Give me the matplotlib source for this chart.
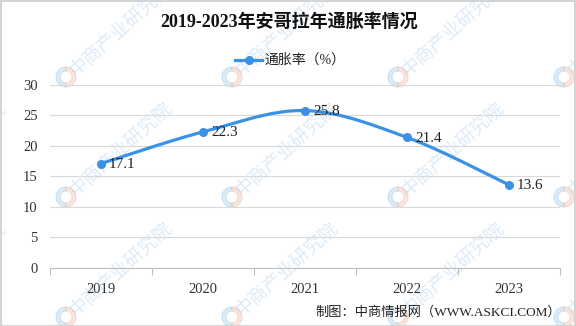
import numpy as np
import matplotlib
matplotlib.use("Agg")
import matplotlib.pyplot as plt
from matplotlib.patches import Rectangle, Wedge
from matplotlib.lines import Line2D

plt.rcParams['font.family'] = ['Liberation Serif', 'Noto Sans CJK SC', 'DejaVu Sans']

years = ['2019', '2020', '2021', '2022', '2023']
inflation = [17.1, 22.3, 25.8, 21.4, 13.6]
labels = ['17.1', '22.3', '25.8', '21.4', '13.6']
yticks = [0, 5, 10, 15, 20, 25, 30]

title = '2019-2023年安哥拉年通胀率情况'
legend_label = '通胀率（%）'
footer = '制图：中商情报网（WWW.ASKCI.COM）'

W, H = 576, 326
fig = plt.figure(figsize=(W / 100, H / 100), dpi=100)
fig.patch.set_facecolor('white')

def px(x, y):
    return x / W, 1 - y / H

# axes
l, r, t, b = 50, 560, 85, 267.7
ax = fig.add_axes([l / W, 1 - b / H, (r - l) / W, (b - t) / H])
ax.set_facecolor('none')

color = '#3a92e8'
xs = np.arange(len(years), dtype=float)
ys = np.array(inflation, dtype=float)

# smooth curve (Catmull-Rom / Excel-like bezier)
P = np.column_stack([xs, ys])
curve = []
for i in range(len(P) - 1):
    p0 = P[i - 1] if i > 0 else P[i]
    p1 = P[i]
    p2 = P[i + 1]
    p3 = P[i + 2] if i + 2 < len(P) else P[i + 1]
    c1 = p1 + (p2 - p0) / 6
    c2 = p2 - (p3 - p1) / 6
    tt = np.linspace(0, 1, 40)[:, None]
    seg = ((1 - tt) ** 3) * p1 + 3 * ((1 - tt) ** 2) * tt * c1 + 3 * (1 - tt) * tt ** 2 * c2 + tt ** 3 * p2
    curve.append(seg if i == 0 else seg[1:])
curve = np.vstack(curve)
ax.plot(curve[:, 0], curve[:, 1], color=color, lw=2.3, solid_capstyle='round', zorder=3)
ax.plot(xs, ys, 'o', color=color, ms=5.5, zorder=4)

for x, y, s in zip(xs, ys, labels):
    ax.annotate(s, (x, y), xytext=(8, -1), textcoords='offset pixels',
                ha='left', va='center', fontsize=11, color='#222222', zorder=5)

ax.set_xlim(-0.5, len(years) - 0.5)
ax.set_ylim(0, 30)
ax.set_yticks(yticks)
ax.set_yticklabels([str(v) for v in yticks])
ax.set_xticks(xs)
ax.set_xticklabels(years)
ax.set_xticks(np.arange(-0.5, len(years), 1.0), minor=True)
ax.tick_params(axis='x', which='major', length=0, pad=11, labelsize=10.5, labelcolor='#333333')
ax.tick_params(axis='x', which='minor', length=5, width=0.8, color='#bfbfbf')
ax.tick_params(axis='y', length=0, pad=9, labelsize=10.5, labelcolor='#333333')
ax.grid(axis='y', color='#d9d9d9', lw=0.8)
ax.set_axisbelow(True)
for s in ['left', 'right', 'top']:
    ax.spines[s].set_visible(False)
ax.spines['bottom'].set_color('#bfbfbf')
ax.spines['bottom'].set_linewidth(0.8)

# title, legend, footer
fig.text(*px(289, 22), title, ha='center', va='center', fontsize=13, fontweight='bold', color='#111111')
lx0, lx1, ly = 235, 262, 60
fig.add_artist(Line2D([lx0 / W, lx1 / W], [1 - ly / H] * 2, color=color, lw=2.3))
fig.add_artist(Line2D([(lx0 + lx1) / 2 / W], [1 - ly / H], marker='o', color=color, ms=5.5))
fig.text(*px(265, 60), legend_label, ha='left', va='center', fontsize=10, color='#222222')
fig.text(*px(561, 312), footer, ha='right', va='center', fontsize=9.5, color='#222222')

# watermark
wm_color = '#9cc6ea'
for j, yy in enumerate([77, 197, 317]):
    for k in range(-1, 4):
        xx = 66 + 166 * k
        cx, cy = px(xx, yy)
        fig.text(cx + 6 / W, cy + 4 / H, '中商产业研究院', rotation=42, rotation_mode='anchor',
                 ha='left', va='center', fontsize=13.5, color=wm_color, alpha=0.35, zorder=-1,
                 family=['Noto Sans CJK SC'])
        fig.add_artist(Wedge((xx, H - yy), 10, 90, 270, width=4, color='#9cc6ea', alpha=0.35,
                             transform=None, zorder=-1))
        fig.add_artist(Wedge((xx, H - yy), 10, -90, 90, width=4, color='#f2b9a5', alpha=0.35,
                             transform=None, zorder=-1))

# border
fig.add_artist(Rectangle((0.5 / W, 0.5 / H), 1 - 1.5 / W, 1 - 1.5 / H, transform=fig.transFigure,
                         fill=False, edgecolor='#cccccc', lw=1.2))

fig.savefig('out.png', dpi=100)
